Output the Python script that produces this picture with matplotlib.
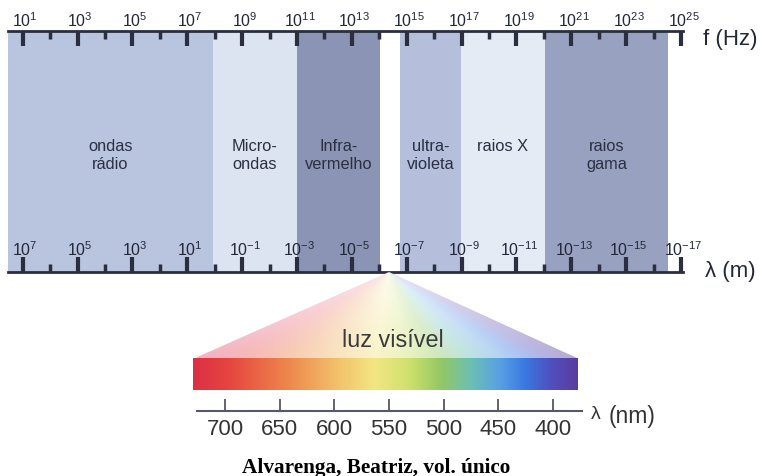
import numpy as np
import matplotlib
matplotlib.use("Agg")
import matplotlib.pyplot as plt
from matplotlib.patches import Polygon
from matplotlib.ticker import FixedLocator, NullFormatter, NullLocator
from matplotlib.colors import to_rgb

plt.rcParams['font.family'] = ['Liberation Sans', 'DejaVu Sans']
plt.rcParams['mathtext.fontset'] = 'custom'
plt.rcParams['mathtext.rm'] = 'Liberation Sans'
plt.rcParams['mathtext.it'] = 'Liberation Sans:italic'
plt.rcParams['mathtext.bf'] = 'Liberation Sans:bold'

# ---------------- data ----------------
band_labels = ["ondas\nrádio", "Micro-\nondas", "Infra-\nvermelho",
               "ultra-\nvioleta", "raios X", "raios\ngama"]
band_lo_exp = [0.46, 7.94, 11.0, 14.76, 16.98, 20.04]    # log10 f (Hz)
band_hi_exp = [7.94, 11.0, 14.03, 16.98, 20.04, 24.52]
band_colors = ["#b9c4df", "#dde4f1", "#8b94b4", "#b5bfdc", "#e5ebf5", "#98a1c0"]

freq_exps = [1, 3, 5, 7, 9, 11, 13, 15, 17, 19, 21, 23, 25]
freq_minor_exps = [2, 4, 6, 8, 10, 12, 14, 16, 18, 20, 22, 24]
wave_exps = [7, 5, 3, 1, -1, -3, -5, -7, -9, -11, -13, -15, -17]

visible_ticks_nm = [700, 650, 600, 550, 500, 450, 400]
spectrum_nm = [729, 695, 640, 595, 563, 531, 503, 476, 449, 426, 403, 378]
spectrum_colors = ["#dc2f45", "#e6473f", "#ee8a4e", "#f3c46c", "#f2e682", "#cde06c",
                   "#92c864", "#6cc0b4", "#58a0e4", "#3a78e0", "#5050c0", "#5a3c9c"]

caption = "Alvarenga, Beatriz, vol. único"

# ---------------- layout helpers ----------------
W, H = 762, 477
fig = plt.figure(figsize=(W / 100, H / 100), dpi=100)
fig.patch.set_facecolor("white")


def fx(px):
    return px / W


def fy(py):
    return 1 - py / H


def f_exp(px):          # pixel -> log10 frequency
    return 1 + (px - 22.7) / 27.43


def nm_at(px):          # pixel -> wavelength nm (visible scale)
    return 700 - (px - 225) / 1.094


axis_col = "#2a2e3e"
text_col = "#23273a"

# ---------------- EM spectrum axes ----------------
em_top, em_bot, em_l, em_r = 32, 273, 8, 683
ax = fig.add_axes([fx(em_l), fy(em_bot), (em_r - em_l) / W, (em_bot - em_top) / H])
ax.set_xscale('log')
ax.set_xlim(10 ** f_exp(em_l), 10 ** f_exp(em_r))
ax.set_ylim(0, 1)
for lo, hi, c in zip(band_lo_exp, band_hi_exp, band_colors):
    ax.axvspan(10 ** lo, 10 ** hi, color=c, lw=0, zorder=0)

for s in ['left', 'right']:
    ax.spines[s].set_visible(False)
for s in ['top', 'bottom']:
    ax.spines[s].set_linewidth(2)
    ax.spines[s].set_color(axis_col)
    ax.spines[s].set_zorder(5)

ax.xaxis.set_major_locator(FixedLocator(10.0 ** np.array(freq_exps)))
ax.xaxis.set_minor_locator(FixedLocator(10.0 ** np.array(freq_minor_exps)))
ax.xaxis.set_major_formatter(NullFormatter())
ax.xaxis.set_minor_formatter(NullFormatter())
ax.yaxis.set_major_locator(NullLocator())
ax.tick_params(axis='x', which='major', direction='in', length=11, width=3,
               color=axis_col, top=True, bottom=True)
ax.tick_params(axis='x', which='minor', direction='in', length=6, width=2.5,
               color=axis_col, top=True, bottom=True)

xt = ax.get_xaxis_transform()
for fe, we in zip(freq_exps, wave_exps):
    ax.annotate(r'$\mathregular{10^{%d}}$' % fe, xy=(10.0 ** fe, 1), xycoords=xt,
                xytext=(2.5, 5), textcoords='offset pixels', ha='center',
                va='baseline', fontsize=11.5, color=text_col, annotation_clip=False)
    ax.annotate(r'$\mathregular{10^{%d}}$' % we, xy=(10.0 ** fe, 0), xycoords=xt,
                xytext=(2.5, 17), textcoords='offset pixels', ha='center',
                va='baseline', fontsize=11.5, color=text_col, annotation_clip=False)

label_top_frac = (em_bot - 139) / (em_bot - em_top)
for lo, hi, lab in zip(band_lo_exp, band_hi_exp, band_labels):
    mid = (lo + hi) / 2
    ax.text(10 ** mid, label_top_frac, lab, transform=xt, ha='center', va='top',
            multialignment='center', fontsize=11.8, linespacing=1.28,
            color="#2a3042")

fig.text(fx(703), fy(40), "f (Hz)", ha='left', va='center', fontsize=16, color=text_col)
fig.text(fx(705), fy(272), "λ (m)", ha='left', va='center', fontsize=16, color=text_col)

# ---------------- visible light axes ----------------
v_l, v_r, v_top, v_bot = 197, 582, 273, 412
ax2 = fig.add_axes([fx(v_l), fy(v_bot), (v_r - v_l) / W, (v_bot - v_top) / H])
ax2.patch.set_alpha(0)

sp_nm = np.array(spectrum_nm[::-1], dtype=float)
sp_rgb = np.array([to_rgb(c) for c in spectrum_colors[::-1]])


def spectrum(nm):
    nm = np.asarray(nm, dtype=float)
    return np.stack([np.interp(nm, sp_nm, sp_rgb[:, k]) for k in range(3)], axis=-1)


bar_l, bar_r = nm_at(193), nm_at(577)
bar_nm = np.linspace(bar_l, bar_r, 600)
bar_img = np.repeat(spectrum(bar_nm)[None, :, :], 4, axis=0)
ax2.imshow(bar_img, extent=[bar_l, bar_r, 391, 359], aspect='auto',
           interpolation='bilinear', clip_on=False, zorder=1)

# fan (triangle) from the visible gap down to the bar
apex_nm, apex_y, base_y = nm_at(389), 273, 359
fan_nm = np.linspace(bar_l, bar_r, 500)
fan_y = np.linspace(apex_y, base_y, 160)
NM, Y = np.meshgrid(fan_nm, fan_y)
t = np.clip((Y - apex_y) / (base_y - apex_y), 1e-3, 1)
nm_base = np.clip(apex_nm + (NM - apex_nm) / t, sp_nm.min(), sp_nm.max())
col = spectrum(nm_base)
# a faint magenta tint on the red side, as in the printed fan
tint = np.array(to_rgb("#f07ab8"))
red_side = np.clip((nm_base - 640) / 90, 0, 1)[..., None]
col = col * (1 - 0.45 * red_side) + tint * 0.45 * red_side
w = (0.86 - 0.3 * t)[..., None]
fan_img = w + (1 - w) * col
im = ax2.imshow(fan_img, extent=[bar_l, bar_r, base_y, apex_y], aspect='auto',
                interpolation='bilinear', zorder=1)
tri = Polygon([(apex_nm, apex_y), (nm_at(195), base_y), (nm_at(577), base_y)],
              closed=True, transform=ax2.transData, facecolor='none', edgecolor='none')
im.set_clip_path(tri)
im.set_clip_box(None)

ax2.set_xlim(nm_at(v_l), nm_at(v_r))
ax2.set_ylim(v_bot, v_top)
for s in ['left', 'right', 'top']:
    ax2.spines[s].set_visible(False)
ax2.spines['bottom'].set_linewidth(1.5)
ax2.spines['bottom'].set_color('#555866')
ax2.set_xticks(visible_ticks_nm)
ax2.set_yticks([])
ax2.tick_params(axis='x', direction='in', length=9, width=1.3, color='#555866',
                labelsize=16, pad=5, labelcolor='#333333')

fig.text(fx(393), fy(347), "luz visível", ha='center', va='baseline',
         fontsize=16.8, color='#3a3a3a')
fig.text(fx(591), fy(419), "λ", ha='left', va='baseline', fontsize=14, color='#333333')
fig.text(fx(609), fy(423), "(nm)", ha='left', va='baseline', fontsize=16.5, color='#333333')

fig.text(fx(376.5), fy(473), caption, ha='center', va='baseline', fontsize=15.3,
         family='Liberation Serif', weight='bold', color='black')

fig.savefig("out.png", dpi=100)
